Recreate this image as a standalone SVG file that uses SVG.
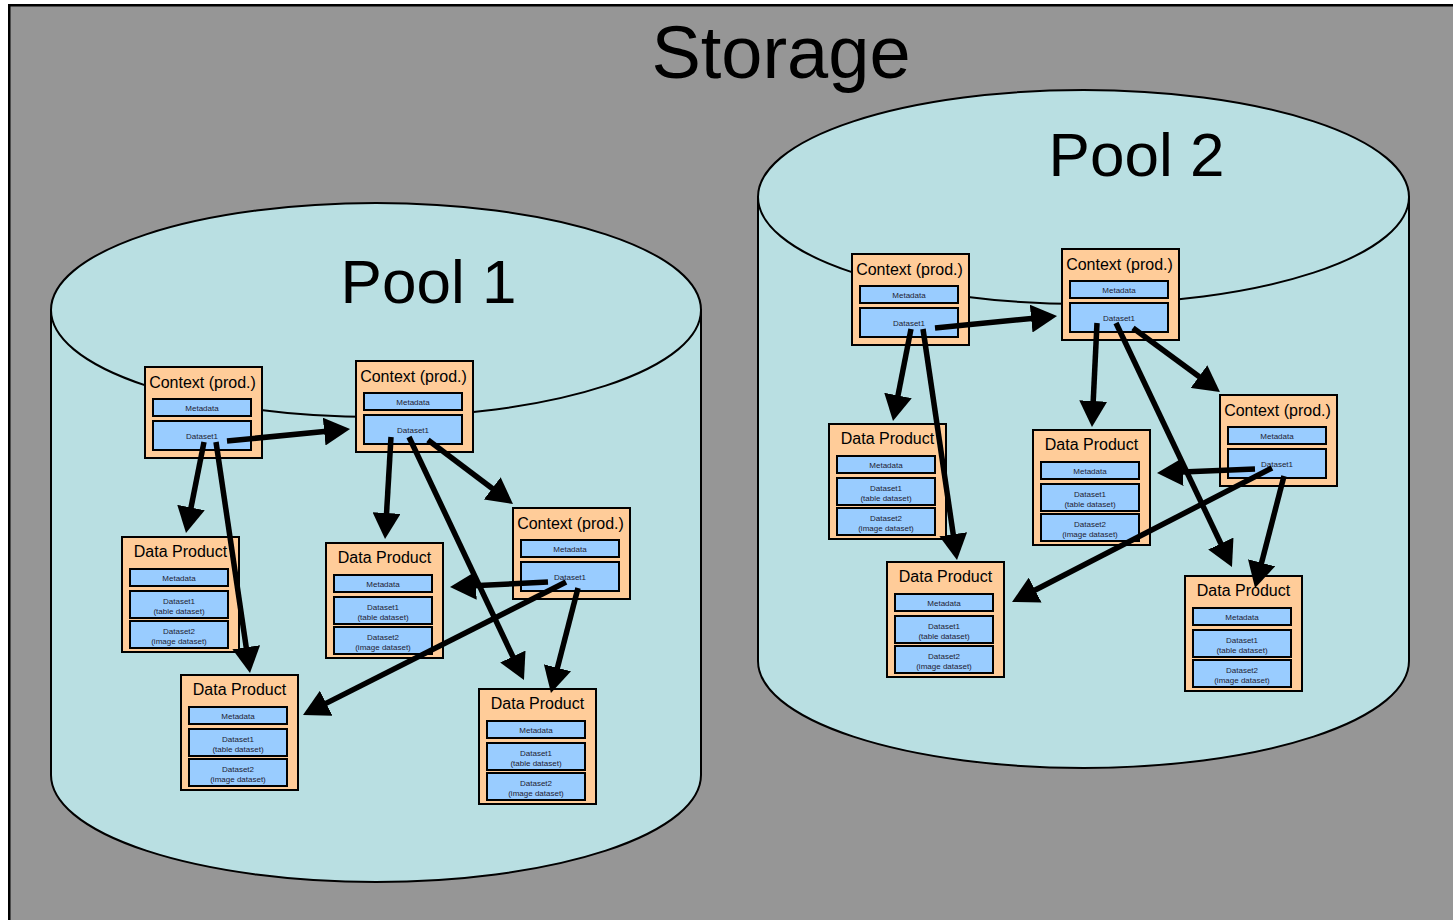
<svg xmlns="http://www.w3.org/2000/svg" width="1453" height="920" viewBox="0 0 1453 920">
<defs>
<style>
.bg{fill:#969696;stroke:#000;stroke-width:2.5}
.cyl{fill:#B9DFE2;stroke:#000;stroke-width:2}
.ob{fill:#FFCC99;stroke:#000;stroke-width:2}
.ib{fill:#99CCFF;stroke:#000;stroke-width:2}
.big{font-family:"Liberation Sans",Arial,sans-serif;fill:#000;text-anchor:middle}
.tt{font-family:"Liberation Sans",Arial,sans-serif;font-size:16px;fill:#000;text-anchor:middle}
.st{font-family:"Liberation Sans",Arial,sans-serif;font-size:8px;fill:#1e2233;text-anchor:middle}
.ar{stroke:#000;stroke-width:5.5;fill:none;marker-end:url(#ah)}
</style>
<marker id="ah" markerUnits="userSpaceOnUse" markerWidth="26" markerHeight="28" refX="13" refY="14" orient="auto" viewBox="0 0 26 28">
<path d="M0,0 L26,14 L0,28 Z" fill="#000"/>
</marker>
<g id="ctx">
<rect class="ob" x="0" y="0" width="117" height="91"/>
<text class="tt" x="57.5" y="20.5">Context (prod.)</text>
<rect class="ib" x="8" y="32" width="98" height="17"/>
<text class="st" x="57" y="43.5">Metadata</text>
<rect class="ib" x="8" y="54" width="98" height="29"/>
<text class="st" x="57" y="72">Dataset1</text>
</g>
<g id="dp">
<rect class="ob" x="0" y="0" width="117" height="115"/>
<text class="tt" x="58.5" y="20">Data Product</text>
<rect class="ib" x="8" y="32" width="98" height="17"/>
<text class="st" x="57" y="43.5">Metadata</text>
<rect class="ib" x="8" y="54" width="98" height="27"/>
<text class="st" x="57" y="66.5">Dataset1</text>
<text class="st" x="57" y="76.5">(table dataset)</text>
<rect class="ib" x="8" y="84" width="98" height="27"/>
<text class="st" x="57" y="96.5">Dataset2</text>
<text class="st" x="57" y="106.5">(image dataset)</text>
</g>
</defs>
<rect x="0" y="0" width="1453" height="920" fill="#fff"/>
<rect class="bg" x="9.25" y="5.25" width="1470" height="940"/>
<text class="big" x="781" y="78" font-size="74">Storage</text>

<g id="pool1">
<path class="cyl" d="M51,310 L51,775 A325,107 0 0 0 701,775 L701,310 Z"/>
<ellipse class="cyl" cx="376" cy="310" rx="325" ry="107"/>
<text class="big" x="428.5" y="303" font-size="62">Pool 1</text>
</g>
<g id="pool2">
<path class="cyl" d="M758,197 L758,661 A325.5,107 0 0 0 1409,661 L1409,197 Z"/>
<ellipse class="cyl" cx="1083.5" cy="197" rx="325.5" ry="107"/>
<text class="big" x="1136.5" y="176" font-size="62">Pool 2</text>
</g>

<g id="ctxA"><use href="#ctx" x="145" y="367"/></g>
<g id="ctxB"><use href="#ctx" x="356" y="361"/></g>
<g id="ctxC"><use href="#ctx" x="513" y="508"/></g>
<g id="ctxD"><use href="#ctx" x="852" y="254"/></g>
<g id="ctxE"><use href="#ctx" x="1062" y="249"/></g>
<g id="ctxF"><use href="#ctx" x="1220" y="395"/></g>

<g id="dp1"><use href="#dp" x="122" y="537"/></g>
<g id="dp2"><use href="#dp" x="326" y="543"/></g>
<g id="dp3"><use href="#dp" x="181" y="675"/></g>
<g id="dp4"><use href="#dp" x="479" y="689"/></g>
<g id="dp5"><use href="#dp" x="829" y="424"/></g>
<g id="dp6"><use href="#dp" x="1033" y="430"/></g>
<g id="dp7"><use href="#dp" x="887" y="562"/></g>
<g id="dp8"><use href="#dp" x="1185" y="576"/></g>

<g id="connectors">
<line class="ar" x1="227" y1="441" x2="337.1" y2="430.3"/>
<line class="ar" x1="204" y1="442" x2="188.5" y2="520.3"/>
<line class="ar" x1="216" y1="442" x2="248.1" y2="660.1"/>
<line class="ar" x1="391" y1="437" x2="385.8" y2="526"/>
<line class="ar" x1="409" y1="437" x2="518.4" y2="668.3"/>
<line class="ar" x1="428" y1="440" x2="502.6" y2="496.2"/>
<line class="ar" x1="548" y1="582" x2="463" y2="586.3"/>
<line class="ar" x1="566" y1="582" x2="314.6" y2="709.1"/>
<line class="ar" x1="578" y1="588" x2="554.2" y2="680.4"/>

<line class="ar" x1="935" y1="328" x2="1044.1" y2="317.3"/>
<line class="ar" x1="911" y1="329" x2="895.5" y2="408.2"/>
<line class="ar" x1="923" y1="329" x2="955.1" y2="547.1"/>
<line class="ar" x1="1097" y1="323" x2="1092.6" y2="414"/>
<line class="ar" x1="1133" y1="328" x2="1209.5" y2="384.3"/>
<line class="ar" x1="1116" y1="323" x2="1226.4" y2="555.3"/>
<line class="ar" x1="1255" y1="469" x2="1170" y2="472.5"/>
<line class="ar" x1="1272" y1="468" x2="1023.6" y2="596"/>
<line class="ar" x1="1284" y1="476" x2="1258.3" y2="575.4"/>
</g>
</svg>
